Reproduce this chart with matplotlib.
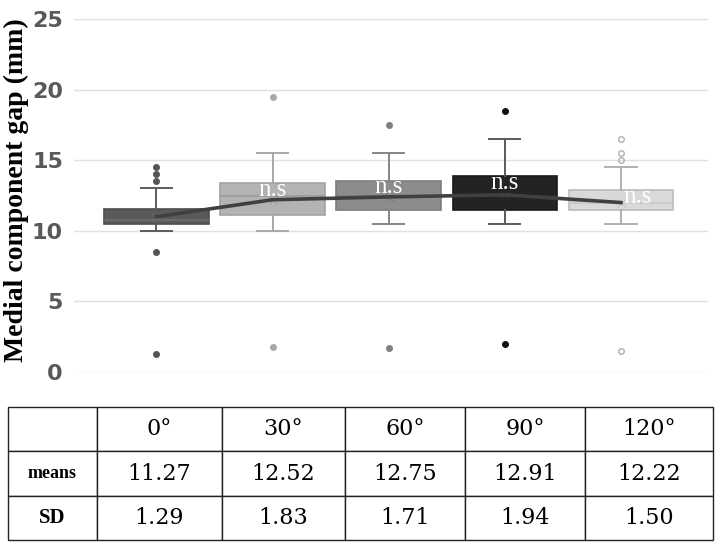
import matplotlib
matplotlib.use("Agg")
import matplotlib.pyplot as plt

# values
angles = ["0°", "30°", "60°", "90°", "120°"]
q1 = [10.45, 11.1, 11.5, 11.5, 11.5]
q3 = [11.55, 13.4, 13.5, 13.9, 12.9]
medians = [10.75, 12.5, 12.5, 12.5, 12.0]
whis_lo = [10.0, 10.0, 10.5, 10.5, 10.5]
whis_hi = [13.0, 15.5, 15.5, 16.5, 14.5]
fliers = [[14.5, 14.0, 13.5, 8.5, 1.3],
          [19.5, 1.8],
          [17.5, 1.7],
          [18.5, 1.95],
          [16.5, 15.5, 15.0, 1.5]]
mean_marks = [11.0, 12.2, 12.4, 12.55, 12.0]
ns_y = [None, 12.9, 13.1, 13.4, 12.4]

table_means = ["11.27", "12.52", "12.75", "12.91", "12.22"]
table_sd = ["1.29", "1.83", "1.71", "1.94", "1.50"]

fills = ["#5a5a5a", "#b3b3b3", "#8c8c8c", "#232323", "#d9d9d9"]
edges = ["#4d4d4d", "#a3a3a3", "#7d7d7d", "#1a1a1a", "#bcbcbc"]
whisk = ["#5c5c5c", "#a8a8a8", "#858585", "#5a5a5a", "#b0b0b0"]
meds = ["#6e6e6e", "#9a9a9a", "#7a7a7a", "#2e2e2e", "#c8c8c8"]
flier_fc = ["#555555", "#a8a8a8", "#808080", "#111111", "none"]
flier_ec = ["#555555", "#a8a8a8", "#808080", "#111111", "#b0b0b0"]

fig = plt.figure(figsize=(7.22, 5.43), dpi=100)
ax = fig.add_axes([74 / 722, 1 - 372 / 543, (708 - 74) / 722, (372 - 19) / 543])

for i in range(len(angles)):
    st = [dict(med=medians[i], q1=q1[i], q3=q3[i], whislo=whis_lo[i],
               whishi=whis_hi[i], fliers=fliers[i], mean=mean_marks[i])]
    ax.bxp(st, positions=[i], widths=0.9, patch_artist=True, showmeans=True,
           boxprops=dict(facecolor=fills[i], edgecolor=edges[i], linewidth=1.2),
           whiskerprops=dict(color=whisk[i], linewidth=1.4),
           capprops=dict(color=whisk[i], linewidth=1.4),
           capwidths=0.27,
           medianprops=dict(color=meds[i], linewidth=1.2),
           meanprops=dict(marker="x", markeredgecolor=meds[i], markersize=6,
                          markeredgewidth=0.8),
           flierprops=dict(marker="o", markersize=4, markerfacecolor=flier_fc[i],
                           markeredgecolor=flier_ec[i], markeredgewidth=1.0),
           zorder=3)

ax.plot(range(len(angles)), mean_marks, color="#404040", linewidth=2.6, zorder=5)

for i, y in enumerate(ns_y):
    if y is None:
        continue
    dx = 0.14 if i == 4 else 0.0
    ax.text(i + dx, y, "n.s", color="white", fontsize=18, family="Liberation Serif",
            ha="center", va="center", zorder=6)

ax.set_xlim(-0.71, 4.75)
ax.set_ylim(0, 25)
ax.set_yticks([0, 5, 10, 15, 20, 25])
ax.set_xticks([])
ax.grid(axis="y", color="#e0e0e0", linewidth=1.0, zorder=0)
ax.set_axisbelow(True)
for s in ax.spines.values():
    s.set_visible(False)
ax.tick_params(axis="y", length=0, pad=8, labelsize=16, labelcolor="#595959")
for lab in ax.get_yticklabels():
    lab.set_fontweight("bold")
fig.text(16 / 722, 1 - 190 / 543, "Medial component gap (mm)", family="Liberation Serif",
         fontweight="bold", fontsize=20, rotation=90, ha="center", va="center")

# table below the chart
tax = fig.add_axes([8 / 722, 1 - 540 / 543, (713 - 8) / 722, (540 - 407) / 543])
tax.axis("off")
cells = [[""] + angles, ["means"] + table_means, ["SD"] + table_sd]
col_px = [89, 125, 123, 120, 120, 128]
tbl = tax.table(cellText=cells, colWidths=[c / sum(col_px) for c in col_px],
                cellLoc="center", bbox=[0, 0, 1, 1])
tbl.auto_set_font_size(False)
for (r, c), cell in tbl.get_celld().items():
    cell.set_linewidth(1.0)
    cell.set_edgecolor("#222222")
    t = cell.get_text()
    t.set_family("DejaVu Serif")
    t.set_fontsize(16)
    if c == 0:
        t.set_fontweight("bold")
        t.set_family("Liberation Serif")
        t.set_fontsize(13 if r == 1 else 15)

fig.savefig("out.png", dpi=100)
